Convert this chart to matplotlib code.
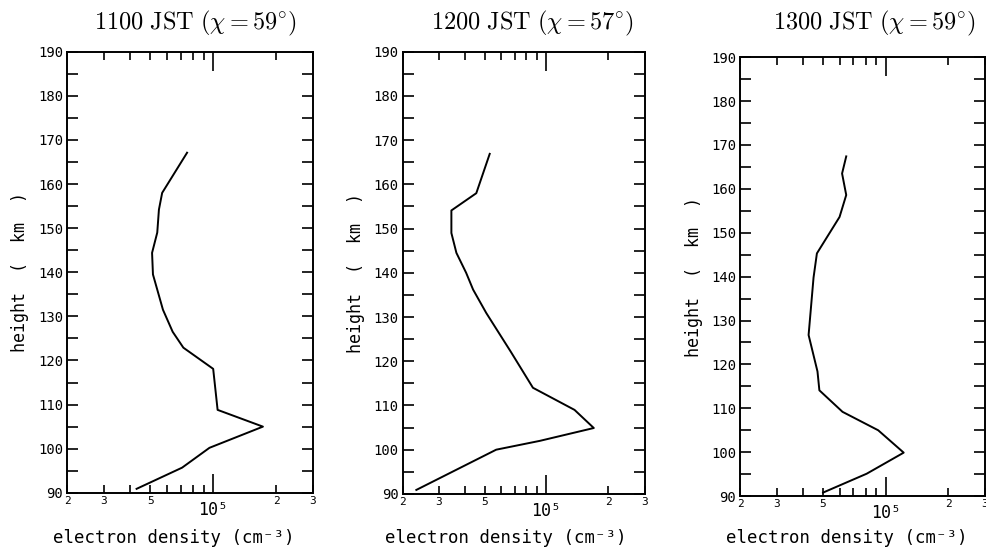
import numpy as np
import matplotlib
matplotlib.use("Agg")
import matplotlib.pyplot as plt
from matplotlib.ticker import MultipleLocator, NullFormatter

plt.rcParams['font.family'] = ['DejaVu Sans Mono', 'DejaVu Sans']
plt.rcParams['mathtext.fontset'] = 'cm'

titles = [r"$\mathrm{1100\ JST}\ (\chi = 59^{\circ})$",
          r"$\mathrm{1200\ JST}\ (\chi = 57^{\circ})$",
          r"$\mathrm{1300\ JST}\ (\chi = 59^{\circ})$"]

# electron density (cm^-3) vs height (km), bottom to top
dens_1100 = [4.3e4, 7.1e4, 9.6e4, 1.73e5, 1.05e5, 1.0e5, 7.2e4, 6.4e4, 5.75e4,
             5.15e4, 5.1e4, 5.4e4, 5.5e4, 5.7e4, 7.5e4]
hgt_1100 = [90.9, 95.7, 100.2, 105.0, 108.8, 118.1, 122.9, 126.5, 131.5,
            139.5, 144.4, 149.0, 154.2, 158.0, 167.1]

dens_1200 = [2.33e4, 5.7e4, 9.3e4, 1.70e5, 1.37e5, 8.6e4, 6.7e4, 5.1e4, 4.4e4,
             4.07e4, 3.65e4, 3.45e4, 3.45e4, 4.56e4, 5.3e4]
hgt_1200 = [90.9, 100.0, 102.0, 104.9, 109.0, 114.0, 122.2, 130.9, 136.2,
            140.0, 144.5, 149.0, 154.1, 158.0, 166.9]

dens_1300 = [5.0e4, 8.1e4, 1.22e5, 9.2e4, 6.2e4, 4.8e4, 4.7e4, 4.26e4, 4.5e4,
             4.67e4, 6.0e4, 6.46e4, 6.17e4, 6.46e4]
hgt_1300 = [90.8, 95.1, 99.9, 105.0, 109.2, 114.1, 118.4, 126.7, 139.8,
            145.3, 153.6, 158.6, 163.5, 167.4]

xticks = [2e4, 3e4, 4e4, 5e4, 6e4, 7e4, 8e4, 9e4, 2e5, 3e5]
xticklabels = ['2', '3', '', '5', '', '', '', '', '2', '3']

profiles = [(dens_1100, hgt_1100), (dens_1200, hgt_1200), (dens_1300, hgt_1300)]
positions = [[0.068, 0.104, 0.249, 0.802],
             [0.408, 0.102, 0.245, 0.804],
             [0.750, 0.098, 0.248, 0.798]]
title_x = [0.198, 0.539, 0.886]
xlabel_x = [0.176, 0.512, 0.858]

fig = plt.figure(figsize=(9.87, 5.5), dpi=100)

for i in range(3):
    ax = fig.add_axes(positions[i])
    d, h = profiles[i]
    ax.plot(d, h, color='black', lw=1.4)
    ax.set_xscale('log')
    ax.set_xlim(2e4, 3e5)
    ax.set_ylim(90, 190)

    ax.set_xticks(xticks)
    ax.set_xticklabels(xticklabels, fontsize=8)
    ax.set_xticks([1e5], minor=True)
    ax.xaxis.set_minor_formatter(NullFormatter())
    ax.tick_params(axis='x', which='major', direction='in', length=6,
                   width=1.2, top=True, pad=2)
    ax.tick_params(axis='x', which='minor', direction='in', length=14,
                   width=1.2, top=True)

    ax.yaxis.set_major_locator(MultipleLocator(10))
    ax.yaxis.set_minor_locator(MultipleLocator(5))
    ax.tick_params(axis='y', which='both', direction='in', length=8,
                   width=1.2, right=True, labelsize=10, pad=3)

    for s in ax.spines.values():
        s.set_linewidth(1.4)

    ax.text(1e5, -0.038, '10⁵', transform=ax.get_xaxis_transform(),
            ha='center', va='center', fontsize=12)
    ax.set_ylabel('height  (  km  )', fontsize=12, labelpad=6)

    fig.text(xlabel_x[i], 0.022, 'electron density (cm⁻³)', ha='center',
             va='center', fontsize=12.5)
    fig.text(title_x[i], 0.958, titles[i], ha='center', va='center', fontsize=17.5)

fig.savefig('out.png', dpi=100)
